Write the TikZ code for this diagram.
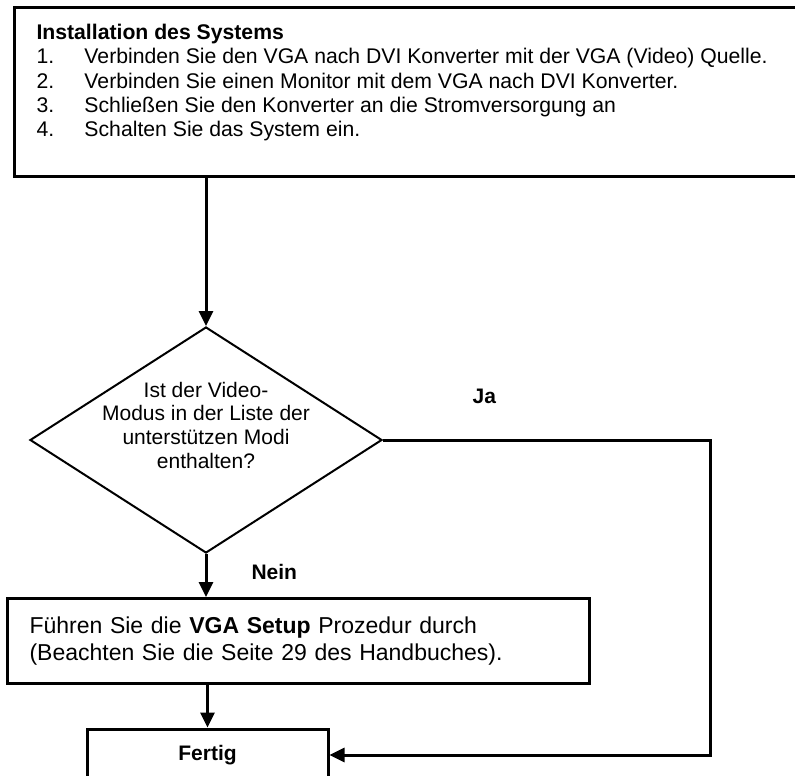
\documentclass[tikz,border=0pt]{standalone}
\usepackage{fontspec}
\setmainfont{Liberation Sans}
\usetikzlibrary{shapes,arrows.meta,positioning}

\begin{document}
\begin{tikzpicture}[
    x=1pt, y=-1pt,
    every node/.style={font=\fontsize{21}{24.2}\selectfont},
    box/.style={draw, rectangle, line width=3pt},
    decision/.style={draw, diamond, line width=2pt, inner sep=0pt, minimum width=352pt, minimum height=226pt, font=\fontsize{21}{23.7}\selectfont},
    flow/.style={-{Triangle[length=15pt,width=14pt]}, line width=3pt},
    answer/.style={inner sep=0pt, font=\fontsize{21}{24.2}\selectfont\bfseries}
]
    \useasboundingbox (0,0) rectangle (795,776);

    \node[box, anchor=north west, inner xsep=22pt, inner ysep=16.5pt, font=\fontsize{21.2}{24.4}\selectfont] (install) at (13,6)
        {\parbox[t][136pt][t]{760pt}{\textbf{Installation des Systems}\\
        \makebox[48pt][l]{1.}Verbinden Sie den VGA nach DVI Konverter mit der VGA (Video) Quelle.\\
        \makebox[48pt][l]{2.}Verbinden Sie einen Monitor mit dem VGA nach DVI Konverter.\\
        \makebox[48pt][l]{3.}Schließen Sie den Konverter an die Stromversorgung an\\
        \makebox[48pt][l]{4.}Schalten Sie das System ein.}};
    \node[decision] (check) at (206,440)
        {\raisebox{7pt}[0pt][0pt]{\begin{tabular}{@{}c@{}}Ist der Video-\\Modus in der Liste der\\unterstützen Modi\\enthalten?\end{tabular}}};
    \node[box, anchor=north west, minimum width=582pt, minimum height=85pt, text width=538pt, inner xsep=22pt, align=left, font=\fontsize{23}{26.5}\selectfont] (setup) at (6,597)
        {Führen Sie die \textbf{VGA Setup} Prozedur durch\\(Beachten Sie die Seite 29 des Handbuches).};
    \node[box, minimum width=241pt, minimum height=52pt, font=\fontsize{21}{24.2}\selectfont\bfseries] (done) at (207.5,755) {Fertig};
    \coordinate (turn) at (710,440);

    \draw[flow] (check.north |- install.south) -- (check.north);
    \draw[flow] (check.south) -- node[answer, right=44pt, yshift=4pt] (no) {Nein} (check.south |- setup.north);
    \draw[flow] (done.north |- setup.south) -- (done.north);
    \draw[flow] (check.east) -- node[answer, pos=0.31, above=35pt] (yes) {Ja} (turn) |- (done.east);
\end{tikzpicture}
\end{document}
